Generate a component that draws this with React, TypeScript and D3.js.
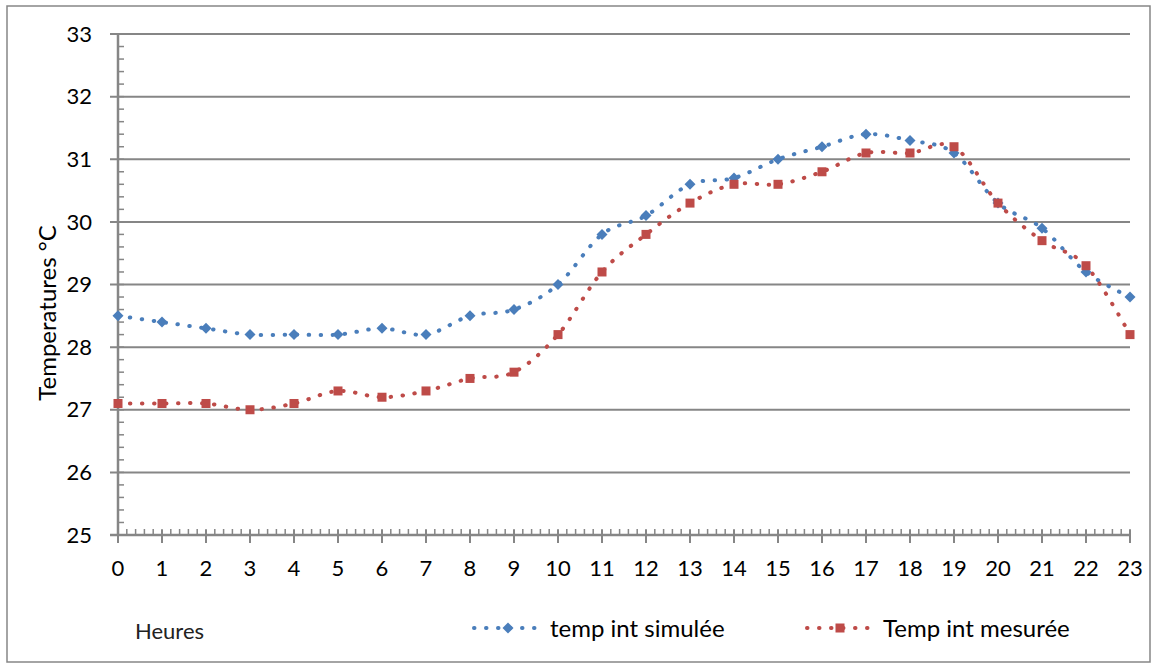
import React from 'react';
import * as d3 from 'd3';

const hours = d3.range(0, 24);
const simulee = [28.5, 28.4, 28.3, 28.2, 28.2, 28.2, 28.3, 28.2, 28.5, 28.6, 29.0, 29.8, 30.1, 30.6, 30.7, 31.0, 31.2, 31.4, 31.3, 31.1, 30.3, 29.9, 29.2, 28.8];
const mesuree = [27.1, 27.1, 27.1, 27.0, 27.1, 27.3, 27.2, 27.3, 27.5, 27.6, 28.2, 29.2, 29.8, 30.3, 30.6, 30.6, 30.8, 31.1, 31.1, 31.2, 30.3, 29.7, 29.3, 28.2];
const yTicks = [25, 26, 27, 28, 29, 30, 31, 32, 33];
const seriesNames = ['temp int simulée', 'Temp int mesurée'];

const width = 1156;
const height = 666;
const margin = { top: 34, right: 26, bottom: 131, left: 118 };
const axisColor = '#868686';
const blue = '#4A7EBB';
const red = '#BE4B48';
const font = 'Lato, "Liberation Sans", sans-serif';

const x = d3.scaleLinear().domain([0, 23]).range([margin.left, width - margin.right]);
const y = d3.scaleLinear().domain([25, 33]).range([height - margin.bottom, margin.top]);

// Excel-like smoothed line
const line = d3.line<number>()
  .x((_, i) => x(hours[i]))
  .y(d => y(d))
  .curve(d3.curveCardinal.tension(0));

const dotted = { strokeWidth: 4, strokeDasharray: '0.5 11.5', strokeLinecap: 'round' as const };

function Diamond({ cx, cy }: { cx: number; cy: number }) {
  const r = 5.5;
  return <path d={`M${cx},${cy - r}L${cx + r},${cy}L${cx},${cy + r}L${cx - r},${cy}Z`} fill={blue} />;
}

function Square({ cx, cy }: { cx: number; cy: number }) {
  const s = 9;
  return <rect x={cx - s / 2} y={cy - s / 2} width={s} height={s} fill={red} />;
}

export default function App() {
  React.useEffect(() => {
    document.body.style.margin = '0';
  }, []);

  const minorY = d3.range(25, 33.01, 0.2);
  const minorX = d3.range(0, 23.01, 0.2);
  const y0 = y(25);

  return (
    <svg width={width} height={height} style={{ display: 'block', background: '#fff' }} fontFamily={font}>
      <rect x={7} y={6} width={1143} height={656} fill="#fff" stroke={axisColor} strokeWidth={1.5} />

      {/* grid lines */}
      {yTicks.map(t => (
        <line key={t} x1={margin.left - 8} x2={x(23)} y1={y(t)} y2={y(t)} stroke={axisColor} strokeWidth={2} />
      ))}

      {/* y axis */}
      <line x1={x(0)} x2={x(0)} y1={y(33)} y2={y0} stroke={axisColor} strokeWidth={2.5} />
      {minorY.map((t, i) => (
        <line key={i} x1={x(0)} x2={x(0) + 6} y1={y(t)} y2={y(t)} stroke={axisColor} strokeWidth={1.5} />
      ))}
      {yTicks.map(t => (
        <text key={t} x={92} y={y(t)} dy="0.35em" textAnchor="end" fontSize={22} fill="#000">{t}</text>
      ))}

      {/* x axis */}
      <line x1={margin.left - 8} x2={x(23)} y1={y0} y2={y0} stroke={axisColor} strokeWidth={2.5} />
      {minorX.map((t, i) => (
        <line key={i} x1={x(t)} x2={x(t)} y1={y0} y2={y0 - 6} stroke={axisColor} strokeWidth={1.5} />
      ))}
      {hours.map(h => (
        <g key={h}>
          <line x1={x(h)} x2={x(h)} y1={y0 - 5} y2={y0 + 8} stroke={axisColor} strokeWidth={2} />
          <text x={x(h)} y={y0 + 41} textAnchor="middle" fontSize={22} fill="#000">{h}</text>
        </g>
      ))}

      <text transform="translate(56,313) rotate(-90)" textAnchor="middle" fontSize={24} fill="#000">
        Temperatures °C
      </text>
      <text x={135} y={639} fontSize={22} fill="#222">Heures</text>

      {/* series */}
      <path d={line(simulee) ?? ''} fill="none" stroke={blue} {...dotted} />
      <path d={line(mesuree) ?? ''} fill="none" stroke={red} {...dotted} />
      {simulee.map((v, i) => <Diamond key={i} cx={x(hours[i])} cy={y(v)} />)}
      {mesuree.map((v, i) => <Square key={i} cx={x(hours[i])} cy={y(v)} />)}

      {/* legend */}
      <g>
        <line x1={474} x2={545} y1={628} y2={628} stroke={blue} {...dotted} />
        <Diamond cx={508} cy={628} />
        <text x={550} y={637} fontSize={24} fill="#000">{seriesNames[0]}</text>
        <line x1={807} x2={877} y1={628} y2={628} stroke={red} {...dotted} />
        <Square cx={840} cy={628} />
        <text x={883} y={637} fontSize={24} fill="#000">{seriesNames[1]}</text>
      </g>
    </svg>
  );
}
